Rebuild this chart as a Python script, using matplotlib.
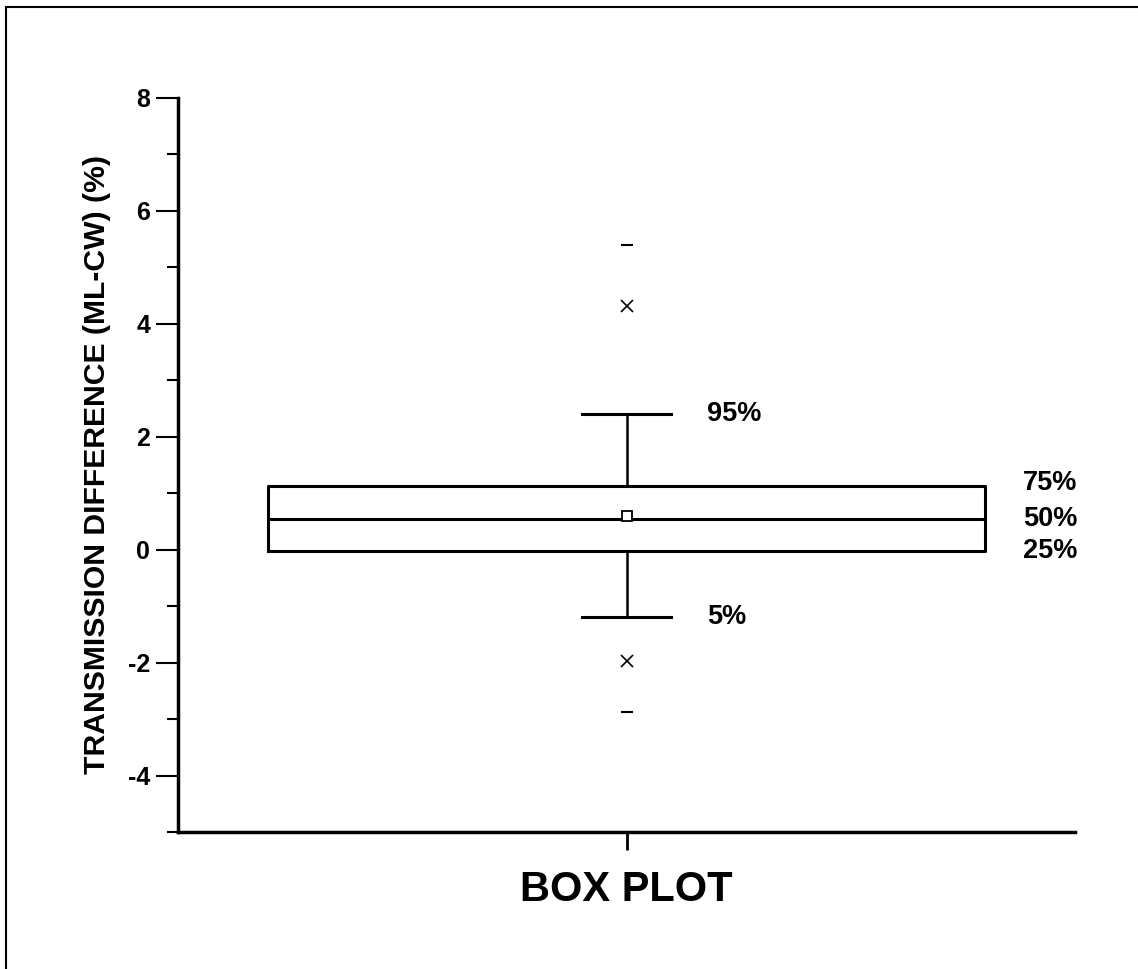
import numpy as np
import matplotlib
matplotlib.use("Agg")
import matplotlib.pyplot as plt
from matplotlib.patches import Rectangle

plt.rcParams['font.family'] = ['Liberation Sans', 'DejaVu Sans']
plt.rcParams['font.weight'] = 'bold'
plt.rcParams['axes.labelweight'] = 'bold'
plt.rcParams['axes.unicode_minus'] = False

# box plot statistics
q1, median, q3 = -0.02, 0.55, 1.13
p5, p95 = -1.19, 2.41
mean = 0.6
x_points = [4.32, -1.98]     # 1% / 99% marks
dash_points = [5.4, -2.87]   # min / max marks
pct_labels = ['5%', '25%', '50%', '75%', '95%']

fig = plt.figure(figsize=(11.38, 9.69), dpi=100)
ax = fig.add_axes([178/1138, 1 - 832/969, (1075-178)/1138, (832-98)/969])

stats = [{'med': median, 'q1': q1, 'q3': q3, 'whislo': p5, 'whishi': p95,
          'mean': mean, 'fliers': []}]
ax.bxp(stats, positions=[1], widths=1.6, capwidths=0.2, showfliers=False,
       showmeans=True,
       boxprops=dict(color='black', linewidth=2.2),
       medianprops=dict(color='black', linewidth=2.2),
       whiskerprops=dict(color='black', linewidth=1.8),
       capprops=dict(color='black', linewidth=2.2),
       meanprops=dict(marker='s', markerfacecolor='white', markeredgecolor='black',
                      markersize=7, markeredgewidth=1.3))

ax.plot([1] * len(x_points), x_points, 'x', color='black', markersize=9, markeredgewidth=1.2)
ax.plot([1] * len(dash_points), dash_points, '_', color='black', markersize=9, markeredgewidth=1.5)

# percentile labels
fs = 19.5
ax.text(1.18, p95, pct_labels[4], fontsize=fs, va='center', ha='left')
ax.text(1.18, p5, pct_labels[0], fontsize=fs, va='center', ha='left')
ax.text(1.884, q3 + 0.05, pct_labels[3], fontsize=fs, va='center', ha='left')
ax.text(1.884, median, pct_labels[2], fontsize=fs, va='center', ha='left')
ax.text(1.884, q1, pct_labels[1], fontsize=fs, va='center', ha='left')

ax.set_xlim(0, 2)
ax.set_ylim(-5, 8)
ax.set_yticks([-4, -2, 0, 2, 4, 6, 8])
ax.set_yticks([-5, -3, -1, 1, 3, 5, 7], minor=True)
ax.set_xticks([1])
ax.set_xticklabels([''])
ax.tick_params(axis='y', which='major', length=16, width=1.5, labelsize=18, pad=4)
ax.tick_params(axis='y', which='minor', length=8, width=1.5)
ax.tick_params(axis='x', length=13, width=2)

for s in ['top', 'right']:
    ax.spines[s].set_visible(False)
for s in ['left', 'bottom']:
    ax.spines[s].set_linewidth(2.5)

ax.set_ylabel('TRANSMISSION DIFFERENCE (ML-CW) (%)', fontsize=21.7, labelpad=12)
ax.set_xlabel('BOX PLOT', fontsize=30, labelpad=11)

# frame around the whole figure
fig.patches.append(Rectangle((6/1138, -0.01), 1.02, 1 - 7/969 + 0.01,
                             transform=fig.transFigure, fill=False,
                             edgecolor='black', linewidth=1.5))

fig.savefig('out.png', dpi=100)
